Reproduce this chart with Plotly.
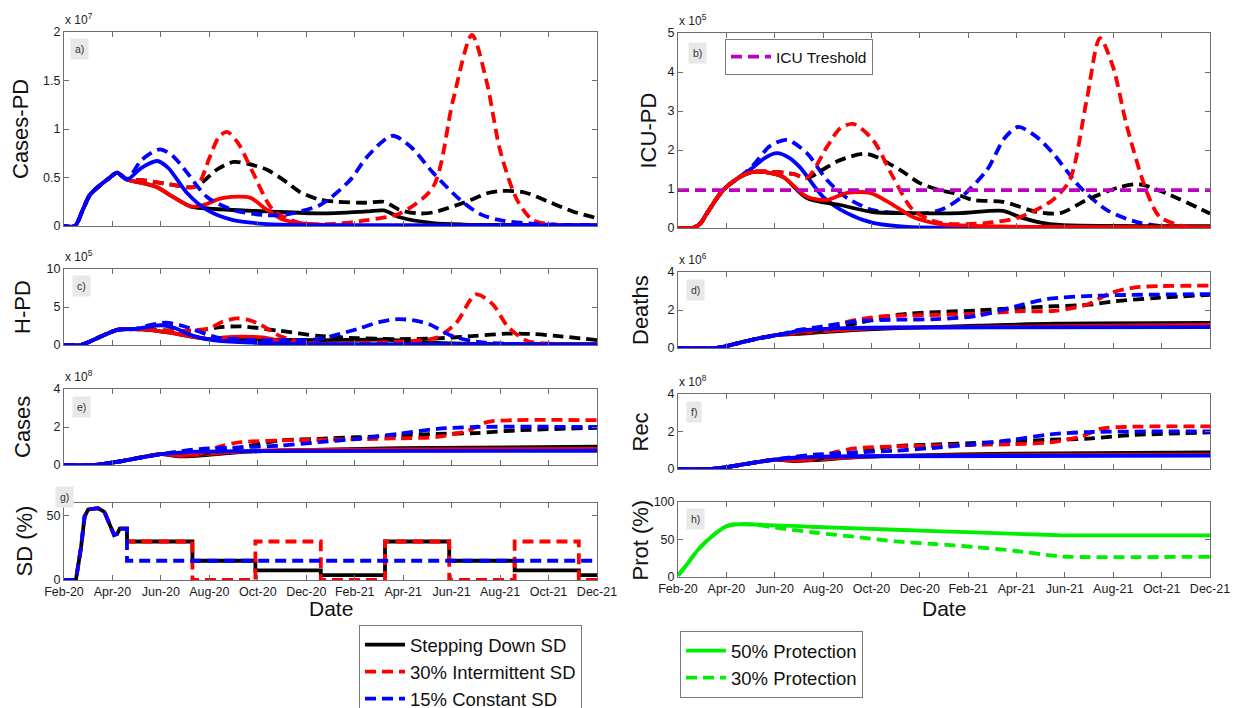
import plotly.graph_objects as go

# ---------------- data (x = months since 1 Feb 2020) ----------------
TICK_MONTHS = [0, 2, 4, 6, 8, 10, 12, 14, 16, 18, 20, 22]
TICK_LABELS = ["Feb-20", "Apr-20", "Jun-20", "Aug-20", "Oct-20", "Dec-20",
               "Feb-21", "Apr-21", "Jun-21", "Aug-21", "Oct-21", "Dec-21"]

# a) Cases-PD (x 1e7)
A_COMMON = [(0, 0), (0.45, 0), (0.78, 0.17), (1.07, 0.32), (1.49, 0.42), (1.9, 0.5), (2.19, 0.55), (2.6, 0.48)]
A_BLACK_SOLID = A_COMMON + [(3.3, 0.44), (3.84, 0.40), (4.5, 0.30), (5.25, 0.2), (6.0, 0.18), (7.0, 0.165), (8.38, 0.15),
                            (10.57, 0.13), (12.5, 0.15), (13.2, 0.16), (13.87, 0.09), (15.23, 0.03), (16.5, 0.015), (22, 0.01)]
A_RED_SOLID = A_COMMON + [(3.3, 0.44), (3.84, 0.40), (4.5, 0.30), (5.25, 0.2), (5.8, 0.22), (6.4, 0.28), (6.9, 0.30),
                          (7.7, 0.29), (8.3, 0.18), (9.0, 0.07), (9.74, 0.03), (11, 0.01), (22, 0.005)]
A_BLUE_SOLID = A_COMMON + [(3.2, 0.6), (3.84, 0.67), (4.3, 0.6), (5.08, 0.34), (5.9, 0.165), (6.98, 0.06), (8.38, 0.02),
                           (10, 0.01), (22, 0.005)]
A_BLACK_DASH = A_COMMON + [(3.3, 0.47), (3.84, 0.45), (4.6, 0.42), (5.33, 0.40), (5.8, 0.47), (6.3, 0.58), (7.0, 0.66),
                           (7.6, 0.64), (8.38, 0.58), (9.2, 0.45), (9.74, 0.35), (10.57, 0.27), (11.3, 0.25), (12.5, 0.24),
                           (13.2, 0.25), (13.87, 0.165), (14.6, 0.13), (15.23, 0.14), (16.6, 0.25), (17.5, 0.34),
                           (18.0, 0.36), (18.95, 0.35), (20.1, 0.24), (21.0, 0.15), (22, 0.08)]
A_RED_DASH = A_COMMON + [(3.3, 0.47), (3.84, 0.45), (4.6, 0.42), (5.33, 0.40), (5.6, 0.45), (6.0, 0.70), (6.4, 0.92),
                         (6.73, 0.97), (7.2, 0.85), (7.8, 0.55), (8.63, 0.165), (9.74, 0.03), (11, 0.02), (12.5, 0.06),
                         (13.87, 0.13), (15.23, 0.40), (16.06, 1.3), (16.84, 1.97), (17.46, 1.47), (18.0, 0.78),
                         (18.7, 0.27), (19.36, 0.06), (20.5, 0.01), (22, 0.0)]
A_BLUE_DASH = A_COMMON + [(3.2, 0.68), (3.96, 0.79), (4.5, 0.72), (5.08, 0.55), (5.9, 0.30), (6.98, 0.165), (8.38, 0.11),
                          (9.2, 0.12), (9.74, 0.15), (10.6, 0.22), (11.8, 0.47), (12.5, 0.71), (13.54, 0.93), (14.3, 0.82),
                          (15.23, 0.55), (16.35, 0.27), (17.2, 0.12), (18.0, 0.06), (19.5, 0.02), (22, 0.01)]

# b) ICU-PD (x 1e5)
B_RISE = [(0, 0), (0.58, 0), (0.9, 0.1), (1.2, 0.38), (1.86, 0.97), (2.56, 1.31)]
B_BLACK_SOLID = B_RISE + [(3.1, 1.44), (3.6, 1.43), (4.34, 1.31), (5.33, 0.77), (6.7, 0.59), (8.06, 0.41), (9.5, 0.38),
                          (11.66, 0.38), (13.44, 0.44), (14.14, 0.28), (15.0, 0.14), (15.8, 0.08), (22, 0.05)]
B_RED_SOLID = B_RISE + [(3.1, 1.44), (3.6, 1.43), (4.34, 1.31), (5.33, 0.8), (6.16, 0.72), (6.99, 0.9), (7.94, 0.9),
                        (8.77, 0.64), (9.72, 0.28), (10.83, 0.1), (12, 0.06), (14.5, 0.03), (22, 0.02)]
B_BLUE_SOLID = B_RISE + [(3.1, 1.55), (3.6, 1.8), (4.09, 1.92), (4.6, 1.8), (5.04, 1.56), (6.0, 0.8), (6.99, 0.38),
                         (8.06, 0.13), (9.47, 0.03), (11, 0.01), (22, 0.01)]
B_BLACK_DASH = B_RISE + [(3.1, 1.44), (3.93, 1.44), (4.8, 1.38), (5.33, 1.28), (6.0, 1.5), (6.7, 1.74), (7.82, 1.9),
                         (9.18, 1.49), (10.0, 1.15), (10.83, 0.97), (11.37, 0.9), (12.2, 0.72), (13.44, 0.67),
                         (14.85, 0.41), (15.8, 0.38), (16.9, 0.72), (18.28, 1.05), (19.1, 1.12), (20.34, 0.85), (22, 0.37)]
B_RED_DASH = B_RISE + [(3.1, 1.44), (3.93, 1.44), (4.8, 1.38), (5.33, 1.28), (6.16, 2.08), (6.7, 2.55), (7.24, 2.67),
                       (8.06, 2.26), (8.89, 1.31), (9.72, 0.46), (10.83, 0.13), (12.78, 0.13), (14.14, 0.28), (15.5, 0.72),
                       (16.2, 1.23), (16.9, 3.28), (17.45, 4.87), (17.99, 4.13), (18.57, 2.59), (19.4, 0.9),
                       (19.93, 0.28), (21.05, 0.03), (22, 0.02)]
B_BLUE_DASH = B_RISE + [(3.1, 1.6), (3.8, 2.1), (4.51, 2.26), (5.33, 1.92), (6.16, 1.23), (6.99, 0.77), (8.06, 0.46),
                        (9.47, 0.38), (10.3, 0.38), (11.0, 0.5), (11.66, 0.76), (12.78, 1.49), (13.5, 2.3), (14.06, 2.59),
                        (14.8, 2.35), (15.5, 1.92), (16.62, 1.05), (17.74, 0.46), (18.98, 0.15), (20.34, 0.03), (22, 0.01)]
ICU_THRESHOLD = 0.97

# c) H-PD (x 1e5)
C_COMMON = [(0, 0), (0.68, 0), (1.3, 0.8), (2.2, 2.0), (2.9, 2.1)]
C_BLACK_SOLID = C_COMMON + [(3.5, 2.0), (4.3, 1.65), (6.0, 0.78), (8.0, 0.7), (10.5, 0.65), (13.3, 0.7), (14.5, 0.4),
                            (16, 0.2), (18, 0.12), (22, 0.12)]
C_RED_SOLID = C_COMMON + [(3.5, 2.0), (4.3, 1.65), (6.0, 0.78), (6.6, 1.0), (7.3, 1.1), (8.2, 1.0), (9.2, 0.35),
                          (10.5, 0.13), (12, 0.06), (22, 0.04)]
C_BLUE_SOLID = C_COMMON + [(3.5, 2.4), (4.0, 2.6), (4.6, 2.2), (5.15, 1.4), (6.3, 0.56), (8.1, 0.26), (10, 0.1), (22, 0.05)]
C_BLACK_DASH = C_COMMON + [(3.5, 2.0), (4.8, 1.87), (5.6, 1.9), (6.3, 2.3), (7.3, 2.45), (8.9, 1.87), (10.5, 1.2),
                           (12.1, 0.9), (13.8, 0.78), (15.4, 0.87), (17.0, 1.2), (18.3, 1.5), (19.3, 1.45), (20.3, 1.2),
                           (22, 0.65)]
C_RED_DASH = C_COMMON + [(3.5, 2.0), (4.8, 1.87), (6.0, 2.2), (6.5, 3.0), (7.1, 3.5), (7.6, 3.3), (8.1, 2.7), (8.9, 1.2),
                         (9.9, 0.35), (11, 0.2), (12.1, 0.26), (13.8, 0.43), (15.4, 1.0), (16.2, 2.95), (17.0, 6.65),
                         (17.7, 5.35), (18.3, 2.5), (19.1, 0.56), (20.3, 0.13), (22, 0.05)]
C_BLUE_DASH = C_COMMON + [(3.5, 2.6), (4.2, 2.95), (4.8, 2.6), (5.3, 2.1), (6.3, 1.0), (7.9, 0.65), (9.2, 0.65),
                          (10.5, 0.78), (12.1, 2.1), (13.0, 3.0), (13.8, 3.4), (14.5, 3.2), (15.1, 2.7), (16.0, 1.2),
                          (17.0, 0.43), (18.65, 0.13), (22, 0.05)]

# d) Deaths (x 1e6)
D_COMMON = [(0, 0), (1.6, 0), (2.5, 0.26), (3.3, 0.5), (4.2, 0.7)]
D_BLACK_SOLID = D_COMMON + [(5.0, 0.75), (5.8, 0.82), (7.4, 0.95), (9.1, 1.05), (12.4, 1.17), (15.6, 1.28), (22, 1.32)]
D_RED_SOLID = D_COMMON + [(5.0, 0.78), (5.8, 0.85), (7.4, 1.0), (9.1, 1.07), (12.4, 1.1), (15.6, 1.15), (22, 1.22)]
D_BLUE_SOLID = D_COMMON + [(5.0, 0.9), (5.8, 0.99), (7.4, 1.06), (9.1, 1.08), (22, 1.1)]
D_BLACK_DASH = D_COMMON + [(5.0, 0.8), (5.8, 0.88), (7.4, 1.3), (9.1, 1.75), (12.4, 1.98), (14.0, 2.1), (15.6, 2.2),
                           (17.0, 2.28), (18.1, 2.46), (19.7, 2.63), (22, 2.8)]
D_RED_DASH = D_COMMON + [(5.0, 0.85), (5.8, 0.96), (6.6, 1.25), (7.4, 1.49), (8.3, 1.65), (9.1, 1.7), (12.4, 1.8),
                         (14.0, 1.93), (15.6, 1.96), (16.9, 2.28), (17.9, 2.9), (18.9, 3.19), (20, 3.26), (22, 3.28)]
D_BLUE_DASH = D_COMMON + [(5.0, 0.95), (5.8, 1.1), (7.4, 1.4), (9.1, 1.49), (10.7, 1.52), (12.4, 1.7), (14.0, 2.2),
                          (15.3, 2.58), (17.3, 2.75), (22, 2.84)]

# e) Cases (x 1e8)
E_COMMON = [(0, 0), (1.25, 0), (2.4, 0.21), (3.2, 0.4), (4.0, 0.57)]
E_BLACK_SOLID = E_COMMON + [(4.8, 0.45), (5.6, 0.5), (7.3, 0.68), (8.9, 0.75), (13.8, 0.89), (22, 0.96)]
E_RED_SOLID = E_COMMON + [(4.8, 0.48), (5.6, 0.55), (7.3, 0.7), (8.9, 0.78), (13.8, 0.82), (22, 0.85)]
E_BLUE_SOLID = E_COMMON + [(4.8, 0.65), (5.6, 0.7), (7.3, 0.73), (22, 0.75)]
E_BLACK_DASH = E_COMMON + [(4.8, 0.52), (5.6, 0.57), (7.3, 0.93), (8.9, 1.29), (10.5, 1.38), (12.1, 1.46), (13.8, 1.55),
                           (15.4, 1.64), (17.0, 1.68), (18.65, 1.82), (22, 1.96)]
E_RED_DASH = E_COMMON + [(4.8, 0.52), (5.6, 0.6), (6.5, 1.0), (7.3, 1.2), (8.9, 1.29), (10.5, 1.33), (12.1, 1.36),
                         (13.8, 1.4), (15.4, 1.48), (16.7, 1.82), (17.5, 2.27), (18.65, 2.36), (22, 2.36)]
E_BLUE_DASH = E_COMMON + [(4.8, 0.72), (5.6, 0.84), (7.3, 0.93), (8.9, 1.02), (10.5, 1.2), (12.1, 1.38), (13.8, 1.64),
                          (15.4, 1.9), (17.0, 2.0), (22, 2.0)]

# f) Rec (x 1e8)
F_COMMON = [(0, 0), (1.4, 0), (2.4, 0.18), (3.2, 0.35), (4.0, 0.5)]
F_BLACK_SOLID = F_COMMON + [(4.8, 0.42), (5.6, 0.47), (7.3, 0.62), (8.9, 0.7), (13.8, 0.82), (22, 0.88)]
F_RED_SOLID = F_COMMON + [(4.8, 0.45), (7.3, 0.64), (8.9, 0.7), (13.8, 0.74), (22, 0.76)]
F_BLUE_SOLID = F_COMMON + [(4.8, 0.6), (5.6, 0.65), (7.3, 0.68), (22, 0.71)]
F_BLACK_DASH = F_COMMON + [(4.8, 0.47), (5.6, 0.52), (7.3, 0.86), (8.9, 1.2), (10.5, 1.3), (12.1, 1.38), (13.8, 1.46),
                           (15.4, 1.56), (17.0, 1.62), (18.65, 1.8), (22, 1.95)]
F_RED_DASH = F_COMMON + [(4.8, 0.47), (5.6, 0.55), (6.5, 0.9), (7.3, 1.1), (8.9, 1.2), (12.1, 1.28), (13.8, 1.32),
                         (15.4, 1.42), (16.7, 1.75), (17.5, 2.15), (18.65, 2.25), (22, 2.27)]
F_BLUE_DASH = F_COMMON + [(4.8, 0.65), (5.6, 0.76), (7.3, 0.88), (8.9, 0.97), (10.5, 1.12), (12.1, 1.3), (13.8, 1.55),
                          (15.4, 1.85), (17.0, 1.97), (22, 2.0)]

# g) SD (%)
G_EARLY = [(0, 0), (0.49, 0), (0.7, 25), (0.85, 49.5), (1.0, 55), (1.4, 56), (1.67, 53), (2.07, 35), (2.2, 36),
           (2.3, 40), (2.6, 40)]
G_STEPPING = G_EARLY + [(2.6, 30), (5.3, 30), (5.3, 15), (7.9, 15), (7.9, 7.5), (10.6, 7.5), (10.6, 3.75),
                        (13.25, 3.75), (13.25, 30), (15.9, 30), (15.9, 15), (18.6, 15), (18.6, 7.5), (21.25, 7.5),
                        (21.25, 3.75), (22, 3.75)]
G_INTERMITTENT = G_EARLY + [(2.6, 30), (5.3, 30), (5.3, 0), (7.9, 0), (7.9, 30), (10.6, 30), (10.6, 0), (13.25, 0),
                            (13.25, 30), (15.9, 30), (15.9, 0), (18.6, 0), (18.6, 30), (21.25, 30), (21.25, 0), (22, 0)]
G_CONSTANT = G_EARLY + [(2.6, 15), (22, 15)]

# h) Prot (%)
H_COMMON = [(0, 2), (0.4, 18), (0.82, 36), (1.47, 56), (1.96, 67), (2.29, 70), (3.1, 70)]
H_PROT50 = H_COMMON + [(5.7, 66.7), (9.0, 63), (12.25, 59.5), (15.5, 56), (16.0, 55.5), (22, 55.5)]
H_PROT30 = H_COMMON + [(4.0, 66), (5.7, 59), (7.5, 53), (9.0, 47.5), (10.6, 44), (12.25, 40), (13.9, 35),
                       (15.5, 28.4), (16.0, 27), (22, 27)]

LEGEND_SD = ["Stepping Down SD", "30% Intermittent SD", "15% Constant SD"]
LEGEND_PROT = ["50% Protection", "30% Protection"]

# ---------------- layout helpers ----------------
W, H = 1239, 708
FONT = "Liberation Sans, Arial, Helvetica, sans-serif"
AX = "#6e6e6e"
BLACK, RED, BLUE, GREEN, MAG = "#000000", "#ff0000", "#0000ff", "#00ee00", "#bf00bf"
DASH = "11px,6px"
LW = 3.8


def px_x(p):
    return p / W


def px_y(p):
    return 1 - p / H


# name: (left, right, top, bottom), y-range, y-ticks, exponent, ylabel, ylabel-x, show x labels
PANELS = [
    ("a", (64, 597, 32, 226), [0, 2], [0, 0.5, 1, 1.5, 2], "7", "Cases-PD", 21, False),
    ("b", (678, 1210, 33, 228), [0, 5], [0, 1, 2, 3, 4, 5], "5", "ICU-PD", 648, False),
    ("c", (64, 597, 269, 345), [0, 10], [0, 5, 10], "5", "H-PD", 22, False),
    ("d", (678, 1210, 272, 348), [0, 4], [0, 2, 4], "6", "Deaths", 640, False),
    ("e", (64, 597, 389, 465), [0, 4], [0, 2, 4], "8", "Cases", 22, False),
    ("f", (678, 1210, 394, 469), [0, 4], [0, 2, 4], "8", "Rec", 640, False),
    ("g", (64, 597, 503, 580), [0, 60], [0, 50], None, "SD (%)", 24, True),
    ("h", (678, 1210, 502, 577), [0, 100], [0, 50, 100], None, "Prot (%)", 640, True),
]
LABEL_POS = {"a": (70, 38), "b": (688, 42), "c": (72, 275), "d": (686, 279), "e": (72, 396),
             "f": (686, 401), "g": (55, 486), "h": (686, 508)}

fig = go.Figure()


def add(series, panel_idx, color, dash, name=None, legend=None, shape="spline"):
    xs = [p[0] for p in series]
    ys = [p[1] for p in series]
    sfx = "" if panel_idx == 1 else str(panel_idx)
    fig.add_trace(go.Scatter(
        x=xs, y=ys, mode="lines", xaxis="x" + sfx, yaxis="y" + sfx,
        line=dict(color=color, width=LW, dash=dash, shape=shape,
                  smoothing=0.8 if shape == "spline" else None),
        name=name, showlegend=name is not None, legend=legend, hoverinfo="skip"))


def add_six(idx, bs, rs, bls, bd, rd, bld):
    add(bs, idx, BLACK, "solid")
    add(rs, idx, RED, "solid")
    add(bd, idx, BLACK, DASH)
    add(rd, idx, RED, DASH)
    add(bls, idx, BLUE, "solid")
    add(bld, idx, BLUE, DASH)


add_six(1, A_BLACK_SOLID, A_RED_SOLID, A_BLUE_SOLID, A_BLACK_DASH, A_RED_DASH, A_BLUE_DASH)
# b: blue underneath, red on top
add(B_BLUE_SOLID, 2, BLUE, "solid")
add(B_BLUE_DASH, 2, BLUE, DASH)
add(B_BLACK_SOLID, 2, BLACK, "solid")
add(B_BLACK_DASH, 2, BLACK, DASH)
add(B_RED_SOLID, 2, RED, "solid")
add(B_RED_DASH, 2, RED, DASH)
add([(0, ICU_THRESHOLD), (22, ICU_THRESHOLD)], 2, MAG, DASH, name="ICU Treshold", legend="legend3",
    shape="linear")
add_six(3, C_BLACK_SOLID, C_RED_SOLID, C_BLUE_SOLID, C_BLACK_DASH, C_RED_DASH, C_BLUE_DASH)
add_six(4, D_BLACK_SOLID, D_RED_SOLID, D_BLUE_SOLID, D_BLACK_DASH, D_RED_DASH, D_BLUE_DASH)
add_six(5, E_BLACK_SOLID, E_RED_SOLID, E_BLUE_SOLID, E_BLACK_DASH, E_RED_DASH, E_BLUE_DASH)
add_six(6, F_BLACK_SOLID, F_RED_SOLID, F_BLUE_SOLID, F_BLACK_DASH, F_RED_DASH, F_BLUE_DASH)
add(G_STEPPING, 7, BLACK, "solid", name=LEGEND_SD[0], legend="legend", shape="linear")
add(G_INTERMITTENT, 7, RED, DASH, name=LEGEND_SD[1], legend="legend", shape="linear")
add(G_CONSTANT, 7, BLUE, DASH, name=LEGEND_SD[2], legend="legend", shape="linear")
add(H_PROT50, 8, GREEN, "solid", name=LEGEND_PROT[0], legend="legend2")
add(H_PROT30, 8, GREEN, DASH, name=LEGEND_PROT[1], legend="legend2")

layout = dict(
    width=W, height=H, autosize=False,
    margin=dict(l=0, r=0, t=0, b=0, pad=0, autoexpand=False),
    paper_bgcolor="white", plot_bgcolor="white",
    font=dict(family=FONT, color="#1a1a1a"),
    annotations=[],
)

for i, (key, (l, r, t, b), yr, yt, expo, ylab, ylx, showx) in enumerate(PANELS, start=1):
    sfx = "" if i == 1 else str(i)
    common = dict(showline=True, linecolor=AX, linewidth=1, mirror="ticks", ticks="inside", ticklen=5,
                  tickcolor=AX, tickwidth=1, showgrid=False, zeroline=False, automargin=False, fixedrange=True)
    layout["xaxis" + sfx] = dict(common, domain=[px_x(l), px_x(r)], anchor="y" + sfx, range=[0, 22],
                                 tickmode="array", tickvals=TICK_MONTHS, ticktext=TICK_LABELS,
                                 showticklabels=showx, tickfont=dict(size=12.5, color="#1a1a1a"))
    layout["yaxis" + sfx] = dict(common, domain=[px_y(b), px_y(t)], anchor="x" + sfx, range=yr,
                                 tickmode="array", tickvals=yt, ticktext=[f"{v:g}" for v in yt],
                                 tickfont=dict(size=12.5, color="#1a1a1a"))
    layout["annotations"].append(dict(
        text=ylab, x=px_x(ylx), y=px_y((t + b) / 2), xref="paper", yref="paper", showarrow=False,
        textangle=-90, xanchor="center", yanchor="middle", font=dict(size=22, color="#111")))
    if expo:
        layout["annotations"].append(dict(
            text=f"x 10<sup>{expo}</sup>", x=px_x(l - 1), y=px_y(t - 3), xref="paper", yref="paper",
            showarrow=False, xanchor="left", yanchor="bottom", font=dict(size=12, color="#222")))
    lx, ly = LABEL_POS[key]
    layout["annotations"].append(dict(
        text=f"{key})", x=px_x(lx), y=px_y(ly), xref="paper", yref="paper", showarrow=False,
        xanchor="left", yanchor="top", bgcolor="#e8e8e8", borderpad=4, font=dict(size=10.5, color="#333")))
    if showx:
        layout["annotations"].append(dict(
            text="Date", x=px_x((l + r) / 2), y=px_y(608), xref="paper", yref="paper", showarrow=False,
            xanchor="center", yanchor="middle", font=dict(size=21, color="#111")))

legend_common = dict(xref="paper", yref="paper", xanchor="left", yanchor="top", bgcolor="white",
                     bordercolor="#7a7a7a", borderwidth=1, itemwidth=40, tracegroupgap=0)
layout["legend"] = dict(legend_common, x=px_x(359), y=px_y(625), font=dict(size=18.5, color="#111"))
layout["legend2"] = dict(legend_common, x=px_x(680), y=px_y(631), font=dict(size=18.5, color="#111"))
layout["legend3"] = dict(legend_common, x=px_x(725), y=px_y(39), font=dict(size=15.5, color="#111"))

fig.update_layout(**layout)
fig.write_html("out.html")
